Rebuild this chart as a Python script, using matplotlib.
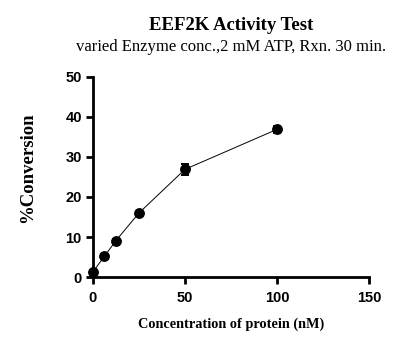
import matplotlib.pyplot as plt

conc = [0, 6.25, 12.5, 25, 50, 100]
conversion = [1.3, 5.2, 9.1, 16.0, 26.9, 36.9]
sd = [0.3, 0.3, 0.3, 0.4, 1.4, 0.9]
xticks = [0, 50, 100, 150]
yticks = [0, 10, 20, 30, 40, 50]

fig = plt.figure(figsize=(4.15, 3.42), dpi=100)
ax = fig.add_axes([0.224, 0.19, 0.665, 0.585])

ax.errorbar(conc, conversion, yerr=sd, color='black', marker='o', markersize=6.8,
            linewidth=0.7, elinewidth=1.4, capsize=3, capthick=1.4, clip_on=False, zorder=3)

ax.set_xlim(0, 150)
ax.set_ylim(0, 50)
ax.set_xticks(xticks)
ax.set_yticks(yticks)
for s in ['top', 'right']:
    ax.spines[s].set_visible(False)
for s in ['left', 'bottom']:
    ax.spines[s].set_linewidth(2)
ax.tick_params(width=2, length=5, labelsize=10.5)
ax.tick_params(axis='x', pad=5)
ax.tick_params(axis='y', pad=3)
for lbl in ax.get_xticklabels() + ax.get_yticklabels():
    lbl.set_fontfamily('Liberation Sans')
    lbl.set_fontweight('bold')

serif = 'Liberation Serif'
ax.set_xlabel('Concentration of protein (nM)', fontfamily=serif, fontweight='bold', fontsize=10.3, labelpad=9)
fig.text(0.066, 0.51, '%Conversion', rotation=90, ha='center', va='center',
         fontfamily=serif, fontweight='bold', fontsize=13.5)
fig.text(0.557, 0.925, 'EEF2K Activity Test', ha='center', va='center',
         fontfamily=serif, fontweight='bold', fontsize=13.5)
fig.text(0.557, 0.862, 'varied Enzyme conc.,2 mM ATP, Rxn. 30 min.', ha='center', va='center',
         fontfamily=serif, fontsize=12)

fig.savefig('out.png', dpi=100)
